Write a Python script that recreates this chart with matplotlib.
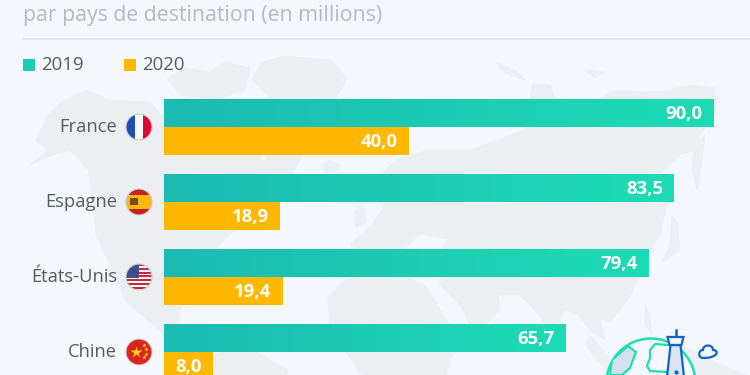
import numpy as np
import matplotlib
matplotlib.use("Agg")
import matplotlib.pyplot as plt
from matplotlib.patches import Circle, Rectangle, Polygon, PathPatch
from matplotlib.path import Path
from matplotlib.transforms import ScaledTranslation

countries = ["France", "Espagne", "États-Unis", "Chine"]
values_2019 = [90.0, 83.5, 79.4, 65.7]
values_2020 = [40.0, 18.9, 19.4, 8.0]
subtitle = "par pays de destination (en millions)"
legend_labels = ["2019", "2020"]

BG = "#f4f7fb"; LAND = "#eceef1"; GOLD = "#ffb800"; GREY = "#565b60"
FONT = "Open Sans"
plt.rcParams["font.family"] = [FONT, "DejaVu Sans"]

fig = plt.figure(figsize=(7.5, 3.75), dpi=100, facecolor=BG)

# ---- decoration layer in pixel space
deco = fig.add_axes([0, 0, 1, 1], zorder=0)
deco.set_xlim(0, 750); deco.set_ylim(375, 0); deco.axis("off")

land = [
    # North America
    [(36,140),(46,118),(60,103),(85,90),(110,100),(150,102),(165,118),(190,108),(215,125),(250,135),(262,160),
     (292,172),(300,190),(275,200),(262,215),(232,232),(215,250),(206,268),(195,285),(180,310),(178,330),(195,345),
     (175,345),(150,322),(125,300),(108,262),(96,235),(94,205),(88,170),(70,150),(52,155),(30,165),(48,150)],
    # Canadian Arctic
    [(167,78),(185,68),(210,72),(225,62),(250,68),(245,90),(215,100),(180,95)],
    # Greenland
    [(252,80),(262,62),(285,56),(330,60),(347,78),(335,100),(315,130),(293,172),(268,172),(262,130),(272,100)],
    # Iceland
    [(320,165),(330,160),(340,165),(335,172),(325,172)],
    # South America
    [(213,355),(240,345),(262,355),(288,370),(285,380),(215,380)],
    # Britain
    [(355,212),(362,204),(367,222),(356,228)],
    # Eurasia
    [(350,245),(372,225),(385,205),(378,175),(400,158),(430,150),(470,150),(525,130),(530,100),(532,84),(550,85),
     (556,99),(600,99),(612,90),(660,92),(690,85),(715,88),(716,115),(700,135),(695,150),(680,155),(662,172),
     (668,200),(660,235),(650,250),(640,275),(628,300),(610,322),(600,318),(605,340),(590,330),(578,315),(565,310),
     (552,335),(535,310),(520,295),(498,295),(500,310),(475,335),(460,305),(440,285),(440,262),(405,258),(385,250),
     (372,250),(355,252)],
    # Africa
    [(328,298),(345,280),(395,272),(425,285),(450,325),(468,330),(450,360),(445,380),(365,380),(345,350),(330,335)],
    # Kamchatka
    [(694,145),(705,135),(700,175),(697,190),(692,170)],
    # Japan
    [(672,215),(678,225),(680,250),(662,262),(670,245)],
    # Novaya Zemlya / islands
    [(497,62),(515,70),(525,80),(512,76),(500,70)],
    [(585,70),(605,72),(595,78)],
    # Indonesia
    [(590,335),(615,365),(625,375),(610,375),(585,345)],
    [(680,345),(715,362),(745,375),(690,375)],
    [(645,305),(650,315),(652,335),(645,325)],
]
for poly in land:
    deco.add_patch(Polygon(poly, closed=True, fc=LAND, ec=LAND, lw=0.5, zorder=1))
deco.add_patch(Polygon([(405,250),(440,252),(445,240),(420,235)], fc=BG, ec=BG, zorder=1.5))

# header
deco.text(23, 21.5, subtitle, fontsize=15.3, color="#b5babf", va="baseline", ha="left")
deco.plot([23, 750], [38.5, 38.5], color="#dfe3e9", lw=1.2)
deco.add_patch(Rectangle((22.5, 58.5), 12.5, 12.5, fc="#1ccdb4", ec="none"))
deco.add_patch(Rectangle((123.5, 58.5), 12.5, 12.5, fc=GOLD, ec="none"))
deco.text(41, 70.5, legend_labels[0], fontsize=13.4, color=GREY, va="baseline")
deco.text(142, 70.5, legend_labels[1], fontsize=13.4, color=GREY, va="baseline")

# ---- bars
ax = fig.add_axes([164.3/750, 0, 585.7/750, 1], zorder=1)
ax.patch.set_alpha(0)
y = np.arange(len(countries))
h = 28/75
b19 = ax.barh(y - h/2, values_2019, height=h, color="#1ccdb4", zorder=2)
b20 = ax.barh(y + h/2, values_2020, height=h, color=GOLD, zorder=2)
cmap = matplotlib.colors.LinearSegmentedColormap.from_list("g", ["#1bbab2", "#1ddcb5"])
for bar in b19:
    x0, y0, w, hh = bar.get_x(), bar.get_y(), bar.get_width(), bar.get_height()
    im = ax.imshow(np.linspace(0, 1, 256)[None, :], extent=(x0, x0 + w, y0 + hh, y0), aspect="auto",
                   cmap=cmap, zorder=2.1, interpolation="bilinear")
    im.set_clip_path(bar)
ax.set_xlim(0, 585.7/6.105)
ax.set_ylim(248/75, -127/75)
ax.set_yticks(y, countries)
ax.set_xticks([])
ax.tick_params(axis="y", length=0, pad=34, labelsize=13.2, labelcolor=GREY)
shift = ScaledTranslation(0, 1.5/72, fig.dpi_scale_trans)
for lab in ax.get_yticklabels():
    lab.set_transform(lab.get_transform() + shift)
for s in ax.spines.values():
    s.set_visible(False)
for vals, off in ((values_2019, -h/2), (values_2020, h/2)):
    for i, v in enumerate(vals):
        ax.annotate(f"{v:.1f}".replace(".", ","), (v, i + off), xytext=(-8, -0.9), textcoords="offset points",
                    ha="right", va="center", color="white", fontsize=13.3, fontweight="bold", zorder=3,
                    annotation_clip=False)

# ---- flags and icon, on top
top = fig.add_axes([0, 0, 1, 1], zorder=2)
top.set_xlim(0, 750); top.set_ylim(375, 0); top.axis("off")
cx, R = 139, 13

def flag(cy):
    clip = Circle((cx, cy), R, transform=top.transData)
    def rect(x0, y0, x1, y1, c, z=5):
        r = Rectangle((x0, y0), x1 - x0, y1 - y0, fc=c, ec="none", zorder=z)
        top.add_patch(r); r.set_clip_path(clip)
    return rect

c = 127
r = flag(c)
r(cx-R, c-R, cx-R+8.7, c+R, "#1f4fb4"); r(cx-R+8.7, c-R, cx+R-8.7, c+R, "#f7f7f7"); r(cx+R-8.7, c-R, cx+R, c+R, "#dc0a32")
c = 202
r = flag(c)
r(cx-R, c-R, cx+R, c+R, "#c8201e"); r(cx-R, c-7, cx+R, c+6.5, "#fcb80f")
r(cx-9, c-4, cx-1, c+3, "#7a4a22", 6)
c = 277
r = flag(c)
r(cx-R, c-R, cx+R, c+R, "#f7f7f7")
for k in range(0, 7):
    r(cx-R, c-R+k*3.8, cx+R, c-R+k*3.8+1.9, "#c8283a")
r(cx-R, c-R, cx-0.5, c+0.5, "#3c4f86", 6)
c = 352
r = flag(c)
r(cx-R, c-R, cx+R, c+R, "#d8261c")
top.plot([cx-3], [c-0.5], marker="*", ms=9, color="#ffd21f", mec="none", zorder=7)
for dx, dy in ((4.5,-7),(7,-3),(7,1.5),(4.5,5)):
    top.plot([cx+dx], [c+dy], marker="*", ms=3.5, color="#ffd21f", mec="none", zorder=7)
for cy in (127, 202, 277, 352):
    top.add_patch(Circle((cx, cy), R, fc="none", ec="#c9cdd2", lw=0.8, zorder=8))

# globe + tower + cloud
globe = Circle((651, 383), 44.5, fc="#f4f7fb", ec="#1de0b0", lw=1.8, zorder=4)
top.add_patch(globe)
for poly in ([(612,360),(628,346),(636,352),(630,368),(622,375),(610,375)],):
    p = Polygon(poly, fc="#d5dff0", ec="#1de0b0", lw=1.6, zorder=4.2); top.add_patch(p); p.set_clip_path(globe)
top.plot([668,655,650,650,647,650,668],[345,344,350,358,366,371,372], color="#1de0b0", lw=1.6, zorder=4.3)
BLUE = "#0f64c4"
top.add_patch(Polygon([(670.5,345),(680.5,345),(684,377),(667,377)], fc="#dbe5f4", ec=BLUE, lw=1.6, zorder=5))
top.add_patch(Polygon([(667.5,337),(683.5,337),(681.5,345),(669.5,345)], fc="#f4f7fb", ec=BLUE, lw=1.6, zorder=5.2))
top.plot([675.5,675.5],[330,337], color=BLUE, lw=1.8, zorder=5)
top.plot([675.5],[372], marker="o", ms=2, color=BLUE, zorder=6)
verts = [(703,358),(698,358),(698,350),(703,350),(703,344),(713,344),(713,350),(719,350),(719,358),(703,358)]
codes = [Path.MOVETO, Path.CURVE4, Path.CURVE4, Path.CURVE4, Path.CURVE4, Path.CURVE4, Path.CURVE4, Path.CURVE4, Path.CURVE4, Path.CLOSEPOLY]
top.add_patch(PathPatch(Path(verts, codes), fc="none", ec=BLUE, lw=1.6, zorder=5))

fig.savefig("out.png", dpi=100, facecolor=BG)
